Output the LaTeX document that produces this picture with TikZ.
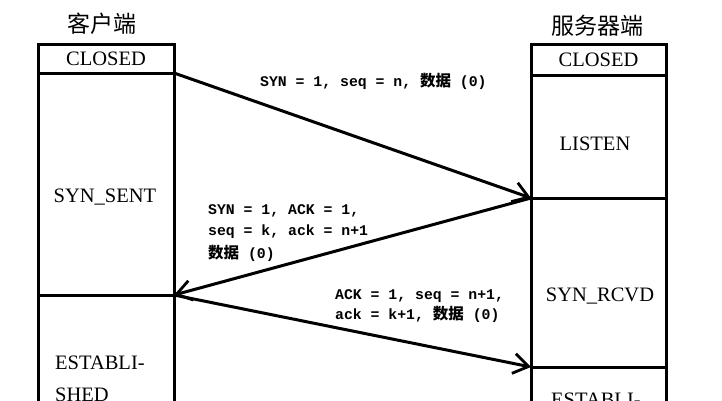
\documentclass[tikz,border=0pt]{standalone}
\usepackage{fontspec}
\setmainfont{Liberation Serif}
\setmonofont{Liberation Mono}
\newfontfamily\cjk{Noto Sans CJK SC}
\usetikzlibrary{arrows.meta}
\newcommand{\sj}{{\cjk\fontsize{15.5}{20}\selectfont 数据}}
\begin{document}
\begin{tikzpicture}[x=1pt,y=-1pt,
  box/.style={draw, line width=3pt, inner sep=0pt, outer sep=0pt, minimum width=136pt},
  rbox/.style={box, minimum width=135pt},
  state/.style={font=\fontsize{20.5}{24}\selectfont, inner sep=0pt},
  ttl/.style={font=\cjk\fontsize{23}{26}\selectfont, inner sep=0pt},
  lbl/.style={font=\fontsize{14.8}{21}\selectfont\ttfamily\bfseries, inner sep=0pt, align=left},
  arr/.style={line width=3pt, -{Straight Barb[length=15pt,width=20pt,line width=2.8pt]}}]
\clip (0,0) rectangle (722,400);
\fill[white] (0,0) rectangle (722,400);
% titles
\node[ttl] (ctitle) at (102,24) {客户端};
\node[ttl] (stitle) at (597,26) {服务器端};
% client column
\node[box, minimum height=29pt, font=\fontsize{20.5}{24}\selectfont] (lclosed) at (106,58.5) {CLOSED};
\node[box, minimum height=222pt] (synsent) at (106,184) {};
\node[box, minimum height=145pt] (lest) at (106,367.5) {};
\node[state] (tsynsent) at (105,197) {SYN\_SENT};
\node[state, anchor=north west, align=left, font=\fontsize{20.5}{32}\selectfont] (test) at (55,356) {ESTABLI-\\SHED};
% server column
\node[rbox, minimum height=31pt, font=\fontsize{20.5}{24}\selectfont] (rclosed) at (598.5,59.5) {CLOSED};
\node[rbox, minimum height=123pt] (listen) at (598.5,136.5) {};
\node[rbox, minimum height=169pt] (synrcvd) at (598.5,282.5) {};
\node[rbox, minimum height=73pt] (rest) at (598.5,403.5) {};
\node[state] (tlisten) at (595,144) {LISTEN};
\node[state] (tsynrcvd) at (600,296) {SYN\_RCVD};
\node[state, anchor=north west] (trest) at (551,393) {ESTABLI-};
% messages
\draw[arr] (lclosed.south east) -- (listen.south west);
\draw[arr] (listen.south west) -- (synsent.south east);
\draw[arr] (synsent.south east) -- (synrcvd.south west);
% labels
\node[lbl, anchor=west] (l1) at (260,81) {SYN = 1, seq = n, \sj{} (0)};
\node[lbl, anchor=west] (l2) at (208,233) {SYN = 1, ACK = 1,\\ seq = k, ack = n+1\\[2pt] \sj{} (0)};
\node[lbl, anchor=west] (l3) at (335,306.5) {ACK = 1, seq = n+1,\\[-1pt] ack = k+1, \sj{} (0)};
\end{tikzpicture}
\end{document}
